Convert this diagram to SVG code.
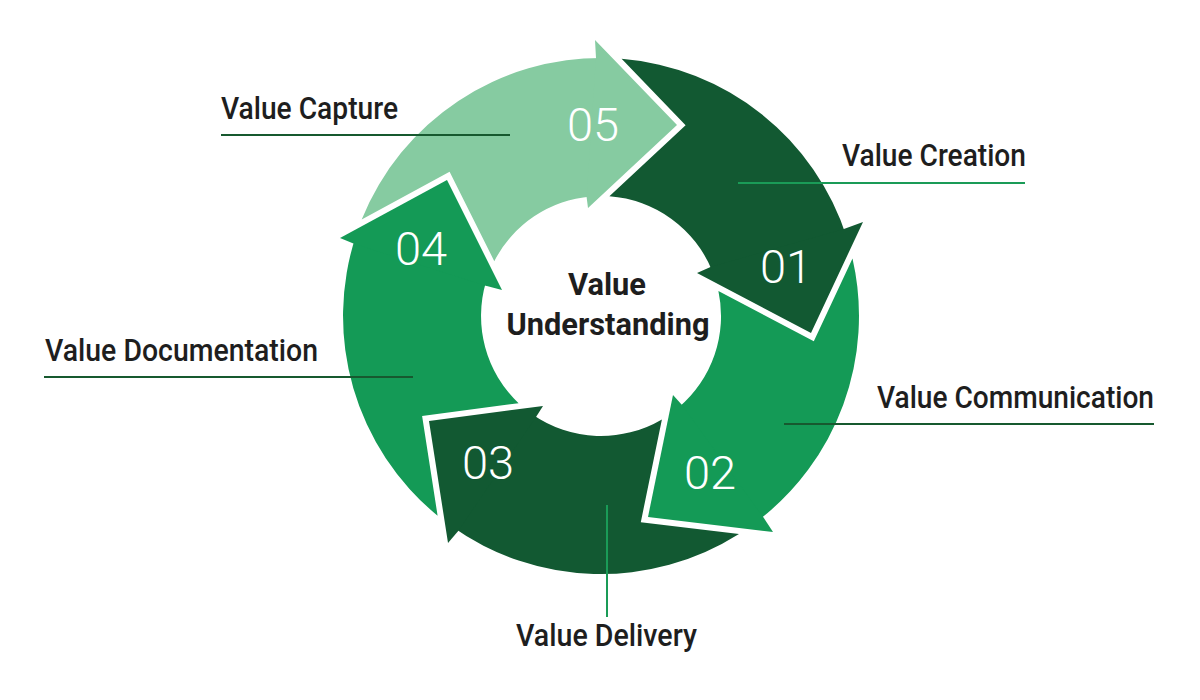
<svg xmlns="http://www.w3.org/2000/svg" width="1200" height="700" viewBox="0 0 1200 700">
  <style>
    .dark { fill: #125932; }
    .mid { fill: #149A56; }
    .light { fill: #86CBA1; }
    .num { font-family: Roboto, "Open Sans", "Liberation Sans", sans-serif; font-weight: 300; font-size: 47px; fill: #ffffff; text-anchor: middle; }
    .label { font-family: Roboto, "Liberation Sans", sans-serif; font-weight: 500; font-size: 31px; fill: #1e1e1e; }
    .center { font-family: Roboto, "Liberation Sans", sans-serif; font-weight: 700; font-size: 31px; fill: #1e1e1e; text-anchor: middle; }
    .ln-dark { stroke: #17592f; stroke-width: 2; fill: none; }
    .ln-mid { stroke: #1a9b57; stroke-width: 2; fill: none; }
  </style>
  <rect width="1200" height="700" fill="#ffffff"/>

  <g id="arrow-01">
    <path class="dark" d="M621.6,58.8 A258,258 0 0 1 846.8,237.6 L712.2,270.9 A120,120 0 0 0 609.4,196.3 L685.6,125.2 Z"/>
    <path class="dark" d="M843.9,229.0 L863,222 L811,333 L697,273 L710.5,267.0 Z"/>
    <text class="num" x="786" y="283">01</text>
  </g>

  <g id="arrow-02">
    <path class="mid" d="M852.5,258.5 A258,258 0 0 1 755.9,522.3 L678.6,407.5 A120,120 0 0 0 718.4,291.0 L813.8,341.2 Z"/>
    <path class="mid" d="M763.0,516.8 L773,532 L648,517 L673,395 L681.8,404.8 Z"/>
    <text class="num" x="710" y="489">02</text>
  </g>

  <g id="arrow-03">
    <path class="dark" d="M739.0,534.0 A258,258 0 0 1 450.8,525.8 L532.5,414.5 A120,120 0 0 0 661.9,419.4 L640.8,522.2 Z"/>
    <path class="dark" d="M458.2,530.9 L448,543 L429,421 L543,406 L536.0,416.9 Z"/>
    <text class="num" x="488" y="479">03</text>
  </g>

  <g id="arrow-04">
    <path class="mid" d="M437.6,515.7 A258,258 0 0 1 356.1,235.0 L486.1,281.5 A120,120 0 0 0 518.6,403.2 L422.1,415.9 Z"/>
    <path class="mid" d="M353.4,243.6 L340,238 L447,180 L502,290 L484.9,285.5 Z"/>
    <text class="num" x="421" y="265">04</text>
  </g>

  <g id="arrow-05">
    <path class="light" d="M361.7,219.4 A258,258 0 0 1 605.1,58.0 L590.8,196.4 A120,120 0 0 0 494.3,261.2 L449.6,171.8 Z"/>
    <path class="light" d="M596.0,58.0 L595,40 L677,125 L588,208 L586.6,196.9 Z"/>
    <text class="num" x="593" y="141">05</text>
  </g>

  <g id="center-node">
    <text class="center" x="607" y="295" textLength="78" lengthAdjust="spacingAndGlyphs">Value</text>
    <text class="center" x="608" y="335" textLength="203" lengthAdjust="spacingAndGlyphs">Understanding</text>
  </g>

  <g id="connectors">
    <line class="ln-dark" x1="221" y1="135" x2="510" y2="135"/>
    <line class="ln-mid" x1="738" y1="183" x2="1025" y2="183"/>
    <line class="ln-dark" x1="784" y1="424" x2="1154" y2="424"/>
    <line class="ln-dark" x1="44" y1="377" x2="413" y2="377"/>
    <line class="ln-mid" x1="607" y1="505" x2="607" y2="617"/>
  </g>

  <g id="labels">
    <text id="label-capture" class="label" x="221" y="119" textLength="177" lengthAdjust="spacingAndGlyphs">Value Capture</text>
    <text id="label-creation" class="label" x="842" y="166" textLength="184" lengthAdjust="spacingAndGlyphs">Value Creation</text>
    <text id="label-communication" class="label" x="877" y="408" textLength="277" lengthAdjust="spacingAndGlyphs">Value Communication</text>
    <text id="label-documentation" class="label" x="45" y="361" textLength="273" lengthAdjust="spacingAndGlyphs">Value Documentation</text>
    <text id="label-delivery" class="label" x="516" y="646" textLength="181" lengthAdjust="spacingAndGlyphs">Value Delivery</text>
  </g>
</svg>
